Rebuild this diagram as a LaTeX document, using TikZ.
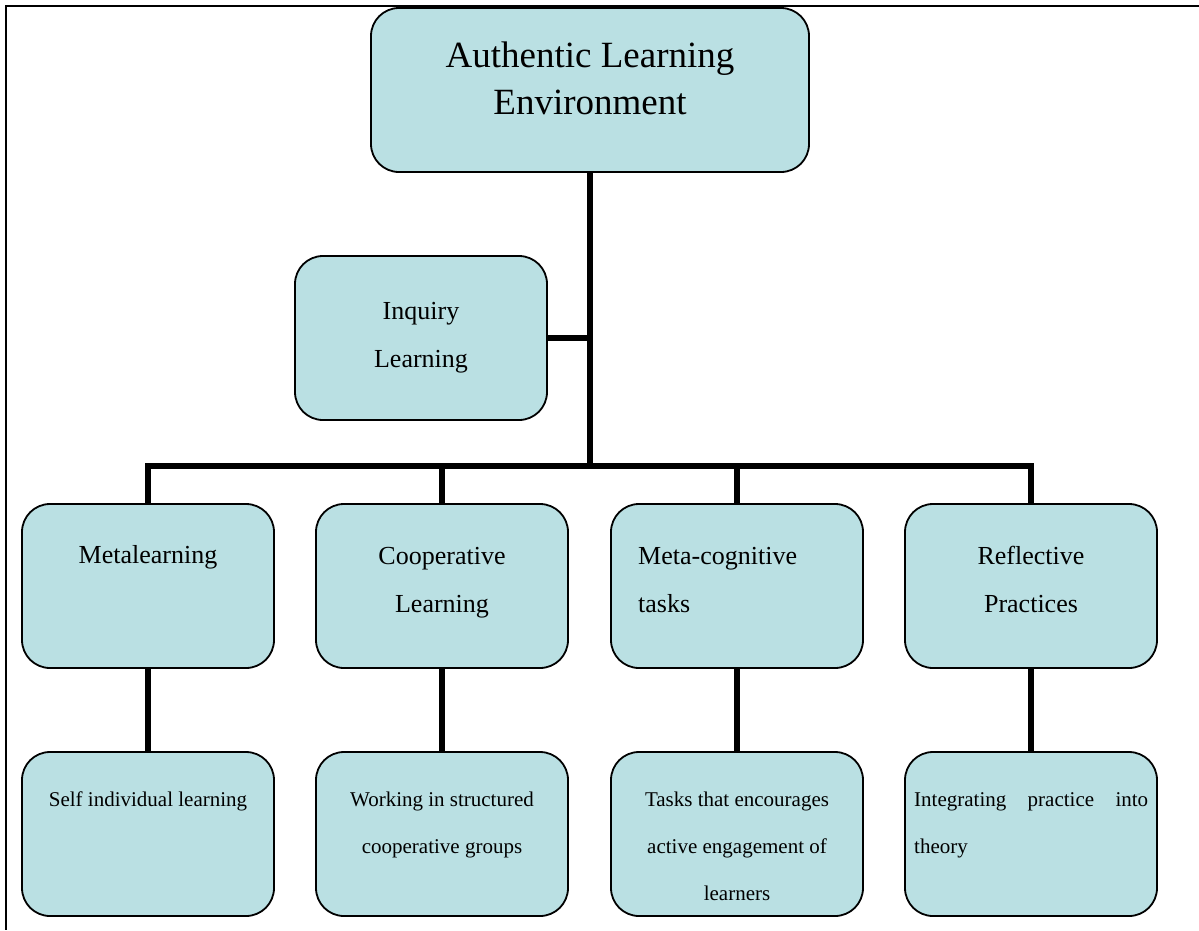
\documentclass[tikz,border=0pt]{standalone}
\usepackage{fontspec}
\setmainfont{Liberation Serif}
\usepackage{xcolor}
\definecolor{colorBox}{RGB}{186,224,227}
\usetikzlibrary{positioning}
\tikzset{
  box/.style={draw=black, line width=1.8pt, fill=colorBox, rounded corners=28pt,
    minimum width=252pt, minimum height=164pt, inner sep=0pt, outer sep=0pt},
  link/.style={line width=6pt, line join=miter},
  bigtext/.style={font=\fontsize{37}{47}\selectfont, align=center, inner sep=0pt},
  midtext/.style={font=\fontsize{26}{48}\selectfont, align=center, inner sep=0pt},
  smalltext/.style={font=\fontsize{21}{47}\selectfont, align=center, inner sep=0pt},
}

\begin{document}
\begin{tikzpicture}[x=1pt, y=-1pt]
\useasboundingbox (0,0) rectangle (1199,930);
\draw[line width=2.6pt] (1199,6) -- (6,6) -- (6,930);

\node[box, minimum width=438pt] (ale) at (590,90) {};
\node[box] (inq) at (421,338) {};
\node[box] (meta) at (148,586) {};
\node[box] (coop) at (442,586) {};
\node[box] (mcog) at (737,586) {};
\node[box] (refl) at (1031,586) {};
\node[box] (self) at (148,834) {};
\node[box] (work) at (442,834) {};
\node[box] (task) at (737,834) {};
\node[box] (intg) at (1031,834) {};

\coordinate (hub) at (590,466);
\draw[link] (ale.south) -- (hub);
\draw[link] (inq.east) -- (inq.east -| hub);
\foreach \n in {meta, coop, mcog, refl}
  \draw[link] (\n.north) |- (hub);
\foreach \a/\b in {meta/self, coop/work, mcog/task, refl/intg}
  \draw[link] (\a) -- (\b);

\node[bigtext] (aleT) at (590,78) {Authentic Learning\\Environment};
\node[midtext] (inqT) at (421,338) {Inquiry\\Learning};
\node[midtext] (metaT) at (148,557) {Metalearning};
\node[midtext] (coopT) at (442,583) {Cooperative\\Learning};
\node[midtext, anchor=west, align=left] (mcogT) at (638,580) {Meta-cognitive\\tasks};
\node[midtext] (reflT) at (1031,579) {Reflective\\Practices};
\node[smalltext] (selfT) at (148,801) {Self individual learning};
\node[smalltext] (workT) at (442,825) {Working in structured\\cooperative groups};
\node[smalltext] (taskT) at (737,846) {Tasks that encourages\\active engagement of\\learners};
\node[smalltext, anchor=west, align=left] (intgT) at (914,825) {\makebox[234pt][s]{Integrating practice into}\\theory};
\end{tikzpicture}
\end{document}
